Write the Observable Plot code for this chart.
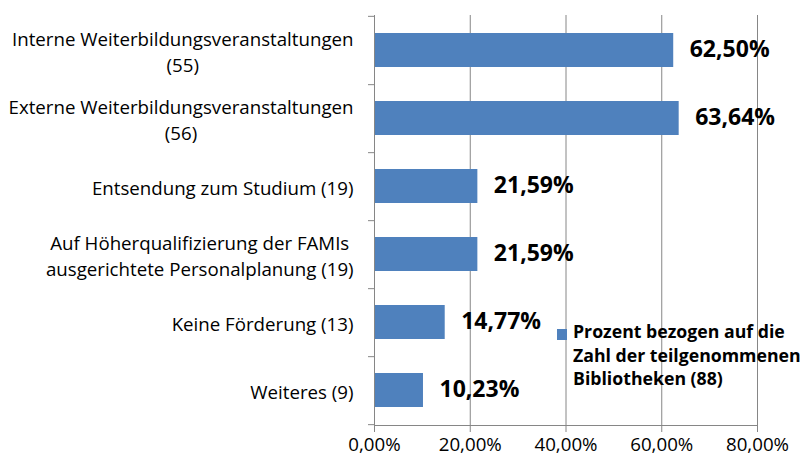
<!DOCTYPE html>
<html><head><meta charset="utf-8">
<script src="https://cdn.jsdelivr.net/npm/d3@7"></script>
<script src="https://cdn.jsdelivr.net/npm/@observablehq/plot@0.6"></script>
<style>
body{margin:0;background:#fff;font-family:"Open Sans",sans-serif;}
#wrap{position:relative;width:803px;height:462px;overflow:hidden;}
#legend{position:absolute;left:557px;top:320px;font:bold 17.7px "Open Sans",sans-serif;line-height:23.5px;color:#000;white-space:nowrap;}
#legend .sw{position:absolute;left:0;top:9px;width:10px;height:11px;background:#4F81BD;}
#legend .txt{margin-left:16px;}
</style></head><body><div id="wrap"></div>
<script>
const categories = [
  "Interne Weiterbildungsveranstaltungen\n(55)",
  "Externe Weiterbildungsveranstaltungen\n(56)",
  "Entsendung zum Studium (19)",
  "Auf Höherqualifizierung der FAMIs\nausgerichtete Personalplanung (19)",
  "Keine Förderung (13)",
  "Weiteres (9)"
];
const values = [0.6250, 0.6364, 0.2159, 0.2159, 0.1477, 0.1023];
const valueLabels = ["62,50%", "63,64%", "21,59%", "21,59%", "14,77%", "10,23%"];
const xTicks = [0, 0.2, 0.4, 0.6, 0.8];
const xTickLabels = ["0,00%", "20,00%", "40,00%", "60,00%", "80,00%"];
const legendLines = ["Prozent bezogen auf die", "Zahl der teilgenommenen", "Bibliotheken (88)"];
const barColor = "#4F81BD";

const W = 803, H = 462, mt = 15, mb = 37, ml = 374, mr = 46;
const step = (H - mt - mb) / categories.length;
const data = categories.map((c, i) => ({cat: c, value: values[i], label: valueLabels[i]}));
const gray = "#868686";

const chart = Plot.plot({
  width: W, height: H,
  marginTop: mt, marginBottom: mb, marginLeft: ml, marginRight: mr,
  style: {fontFamily: "'Open Sans', sans-serif", fontSize: "18.7px", color: "#000", background: "#fff", overflow: "visible"},
  x: {domain: [0, 0.8]},
  y: {domain: categories, paddingInner: 0.5, paddingOuter: 0.25},
  marks: [
    Plot.gridX(xTicks.slice(1), {stroke: gray, strokeOpacity: 1}),
    Plot.barX(data, {y: "cat", x: "value", fill: barColor}),
    Plot.text(data, {y: "cat", x: "value", text: "label", textAnchor: "start", dx: 16, dy: -1, fontWeight: "bold", fontSize: 23, fill: "#000"}),
    Plot.ruleX([0], {stroke: gray}),
    Plot.frame({anchor: "bottom", stroke: gray}),
    Plot.axisX(xTicks, {tickSize: 7, tickPadding: 5, stroke: gray, fill: "#000", label: null, fontSize: 18.7,
      tickFormat: d => xTickLabels[xTicks.indexOf(d)]}),
    Plot.axisY({tickSize: 0, tickPadding: 21, label: null, fill: "#000", lineHeight: 1.39, fontSize: 18.7}),
    Plot.axisY(categories, {tickSize: 6, fill: "none", dy: step / 2, stroke: gray, label: null}),
    Plot.axisY([categories[0]], {tickSize: 6, fill: "none", dy: -step / 2, stroke: gray, label: null})
  ]
});
const wrap = document.getElementById("wrap");
wrap.appendChild(chart);

// center multi-line category labels line by line (right edge kept)
chart.querySelectorAll('g[aria-label="y-axis tick label"] text').forEach(t => {
  const b0 = t.getBBox();
  const right = b0.x + b0.width;
  t.setAttribute("text-anchor", "middle");
  const b1 = t.getBBox();
  const shift = right - (b1.x + b1.width);
  t.querySelectorAll("tspan").forEach(ts => ts.setAttribute("x", shift));
  if (!t.querySelector("tspan")) t.setAttribute("x", shift);
});

const legend = document.createElement("div");
legend.id = "legend";
legend.innerHTML = '<div class="sw"></div><div class="txt">' + legendLines.join("<br>") + '</div>';
wrap.appendChild(legend);
</script>
</body></html>
